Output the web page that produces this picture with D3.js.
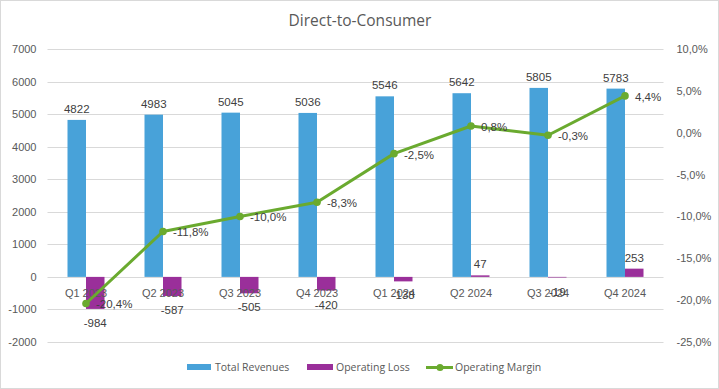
<!DOCTYPE html>
<html><head><meta charset="utf-8">
<script src="https://cdn.jsdelivr.net/npm/d3@7"></script>
<style>body{margin:0;background:#fff;}svg{display:block;}</style>
</head><body>
<svg id="chart" width="719" height="389"></svg>
<script>
const categories = ["Q1 2023","Q2 2023","Q3 2023","Q4 2023","Q1 2024","Q2 2024","Q3 2024","Q4 2024"];
const totalRevenues = [4822,4983,5045,5036,5546,5642,5805,5783];
const operatingLoss = [-984,-587,-505,-420,-138,47,-19,253];
const operatingMargin = [-20.4,-11.8,-10.0,-8.3,-2.5,0.8,-0.3,4.4];
const leftTicks = [-2000,-1000,0,1000,2000,3000,4000,5000,6000,7000];
const rightTicks = [-25,-20,-15,-10,-5,0,5,10];

const svg = d3.select("#chart");
const W = 719, H = 389;
const axisFont = "'Liberation Sans', Arial, sans-serif";
const legFont = "'Open Sans', 'Noto Sans', sans-serif";
const txt = "#595959", lab = "#404040";
const cBlue = "#48A2D9", cPurple = "#9A2F9A", cGreen = "#6AAA2F";

svg.append("rect").attr("x",0.5).attr("y",0.5).attr("width",W-1).attr("height",H-1)
  .attr("fill","#fff").attr("stroke","#d9d9d9");

const plotL = 47.5, plotR = 663.5, plotT = 49, plotB = 342;
const x = d3.scaleBand().domain(categories).range([plotL, plotR]);
const yL = d3.scaleLinear().domain([-2000,7000]).range([plotB, plotT]);
const yR = d3.scaleLinear().domain([-25,10]).range([plotB, plotT]);
const bw = 18.5;

// title
svg.append("text").attr("x",360).attr("y",26).attr("text-anchor","middle")
  .attr("font-family",legFont).attr("font-size",15.5).attr("fill",txt).text("Direct-to-Consumer");

// gridlines
svg.append("g").selectAll("line").data(leftTicks).join("line")
  .attr("x1",plotL).attr("x2",plotR)
  .attr("y1",d=>Math.round(yL(d))+0.5).attr("y2",d=>Math.round(yL(d))+0.5)
  .attr("stroke","#d9d9d9").attr("stroke-width",1);

// left axis
const gl = svg.append("g").attr("transform",`translate(${plotL},0)`)
  .call(d3.axisLeft(yL).tickValues(leftTicks).tickSize(0).tickPadding(11).tickFormat(d=>String(d)));
gl.select(".domain").remove();
gl.selectAll("text").attr("font-family",axisFont).attr("font-size",11).attr("fill",txt);

// right axis
const fmtPct = d => d3.format(".1f")(d).replace("\u2212","-").replace(".",",") + "%";
const gr = svg.append("g").attr("transform",`translate(${plotR},0)`)
  .call(d3.axisRight(yR).tickValues(rightTicks).tickSize(0).tickPadding(13).tickFormat(fmtPct));
gr.select(".domain").remove();
gr.selectAll("text").attr("font-family",axisFont).attr("font-size",11).attr("fill",txt);

const cx = c => x(c) + x.bandwidth()/2;

// bars
svg.append("g").selectAll("rect").data(categories).join("rect")
  .attr("x",c=>cx(c)-bw).attr("width",bw)
  .attr("y",(c,i)=>yL(Math.max(0,totalRevenues[i])))
  .attr("height",(c,i)=>Math.abs(yL(totalRevenues[i])-yL(0)))
  .attr("fill",cBlue);
svg.append("g").selectAll("rect").data(categories).join("rect")
  .attr("x",c=>cx(c)).attr("width",bw)
  .attr("y",(c,i)=>yL(Math.max(0,operatingLoss[i])))
  .attr("height",(c,i)=>Math.abs(yL(operatingLoss[i])-yL(0)))
  .attr("fill",cPurple);

// category labels
svg.append("g").selectAll("text").data(categories).join("text")
  .attr("x",c=>cx(c)).attr("y",yL(0)+20).attr("text-anchor","middle")
  .attr("font-family",axisFont).attr("font-size",11).attr("fill",txt).text(c=>c);

// revenue labels
svg.append("g").selectAll("text").data(categories).join("text")
  .attr("x",c=>cx(c)-bw/2).attr("y",(c,i)=>yL(totalRevenues[i])-7)
  .attr("text-anchor","middle").attr("font-family",axisFont).attr("font-size",11.5).attr("fill",lab)
  .text((c,i)=>totalRevenues[i]);

// loss labels
svg.append("g").selectAll("text").data(categories).join("text")
  .attr("x",c=>cx(c)+bw/2)
  .attr("y",(c,i)=>operatingLoss[i]<0 ? yL(operatingLoss[i])+18 : yL(operatingLoss[i])-7)
  .attr("text-anchor","middle").attr("font-family",axisFont).attr("font-size",11.5).attr("fill",lab)
  .text((c,i)=>operatingLoss[i]);

// line
const line = d3.line().x((d,i)=>cx(categories[i])).y(d=>yR(d));
svg.append("path").datum(operatingMargin).attr("d",line).attr("fill","none")
  .attr("stroke",cGreen).attr("stroke-width",3).attr("stroke-linejoin","round");
svg.append("g").selectAll("circle").data(operatingMargin).join("circle")
  .attr("cx",(d,i)=>cx(categories[i])).attr("cy",d=>yR(d)).attr("r",3.8).attr("fill",cGreen);
svg.append("g").selectAll("text").data(operatingMargin).join("text")
  .attr("x",(d,i)=>cx(categories[i])+10).attr("y",d=>yR(d)+5)
  .attr("font-family",axisFont).attr("font-size",11.5).attr("fill",lab)
  .text(d=>fmtPct(d));

// legend
const lg = svg.append("g").attr("font-family",legFont).attr("font-size",10.5).attr("fill",txt);
const ly = 367;
lg.append("rect").attr("x",187).attr("y",ly-3).attr("width",24).attr("height",6).attr("fill",cBlue);
lg.append("text").attr("x",215).attr("y",ly+4).text("Total Revenues");
lg.append("rect").attr("x",307).attr("y",ly-3).attr("width",26).attr("height",6).attr("fill",cPurple);
lg.append("text").attr("x",336).attr("y",ly+4).text("Operating Loss");
lg.append("line").attr("x1",426).attr("x2",453).attr("y1",ly+0.5).attr("y2",ly+0.5).attr("stroke",cGreen).attr("stroke-width",3);
lg.append("circle").attr("cx",440).attr("cy",ly+0.5).attr("r",3.5).attr("fill",cGreen);
lg.append("text").attr("x",455).attr("y",ly+4).text("Operating Margin");
</script>
</body></html>
